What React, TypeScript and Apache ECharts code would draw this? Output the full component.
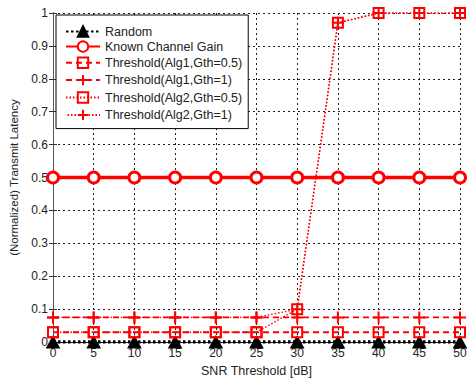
import React, { useEffect, useRef } from "react";
import * as echarts from "echarts";

const snr = [0, 5, 10, 15, 20, 25, 30, 35, 40, 45, 50];
const randomVals = [0, 0, 0, 0, 0, 0, 0, 0, 0, 0, 0];
const knownGain = [0.5, 0.5, 0.5, 0.5, 0.5, 0.5, 0.5, 0.5, 0.5, 0.5, 0.5];
const alg1Gth05 = [0.03, 0.03, 0.03, 0.03, 0.03, 0.03, 0.03, 0.03, 0.03, 0.03, 0.03];
const alg1Gth1 = [0.075, 0.075, 0.075, 0.075, 0.075, 0.075, 0.075, 0.075, 0.075, 0.075, 0.075];
const alg2Gth05 = [0.03, 0.03, 0.03, 0.03, 0.03, 0.03, 0.1, 0.97, 1, 1, 1];
const alg2Gth1 = [0.075, 0.075, 0.075, 0.075, 0.075, 0.075, 0.1, 0.97, 1, 1, 1];
const seriesNames = [
  "Random",
  "Known Channel Gain",
  "Threshold(Alg1,Gth=0.5)",
  "Threshold(Alg1,Gth=1)",
  "Threshold(Alg2,Gth=0.5)",
  "Threshold(Alg2,Gth=1)",
];
const xAxisName = "SNR Threshold [dB]";
const yAxisName = "(Normalized) Transmit Latency";

const FONT = "'Liberation Sans', Arial, Helvetica, sans-serif";
const RED = "#ff0000";
const PLUS = "path://M0,5L10,5M5,0L5,10";

const pairs = (vals: number[]) => snr.map((x, i) => [x, vals[i]]);

export default function App() {
  const ref = useRef<HTMLDivElement>(null);
  useEffect(() => {
    if (!ref.current) return;
    const chart = echarts.init(ref.current, undefined, { renderer: "svg" });
    const axisCommon = {
      axisLine: { show: true, lineStyle: { color: "#555", width: 1 } },
      axisTick: { show: true, inside: true, length: 4, lineStyle: { color: "#333" } },
    };
    chart.setOption({
      animation: false,
      backgroundColor: "#fff",
      textStyle: { fontFamily: FONT },
      grid: { left: 53, right: 12, top: 13, bottom: 37, show: false },
      legend: {
        orient: "vertical",
        left: 56,
        top: 15,
        backgroundColor: "#fff",
        borderColor: "#000",
        borderWidth: 1,
        borderRadius: 0,
        padding: [10, 6, 6, 9],
        itemGap: 2,
        itemWidth: 34,
        itemHeight: 13,
        textStyle: { fontSize: 12.5, color: "#222", fontFamily: FONT },
        data: seriesNames,
      },
      xAxis: [
        {
          type: "value",
          min: 0,
          max: 50,
          interval: 5,
          name: xAxisName,
          nameLocation: "middle",
          nameGap: 20,
          nameTextStyle: { fontSize: 12.5, color: "#222", fontFamily: FONT },
          axisLabel: { fontSize: 12, color: "#222", margin: 5, fontFamily: FONT },
          splitLine: { show: true, lineStyle: { color: "#222", type: [2, 3], width: 1 } },
          ...axisCommon,
        },
        {
          type: "value",
          position: "top",
          min: 0,
          max: 50,
          interval: 5,
          axisLabel: { show: false },
          splitLine: { show: false },
          axisLine: { show: true, lineStyle: { color: "#111", width: 1 } },
          axisTick: { show: true, inside: true, length: 4, lineStyle: { color: "#333" } },
        },
      ],
      yAxis: [
        {
          type: "value",
          min: 0,
          max: 1,
          interval: 0.1,
          name: yAxisName,
          nameLocation: "middle",
          nameGap: 27,
          nameTextStyle: { fontSize: 11.5, color: "#222", fontFamily: FONT },
          axisLabel: { fontSize: 12, color: "#222", margin: 5, fontFamily: FONT },
          splitLine: { show: true, lineStyle: { color: "#222", type: [2, 3], width: 1 } },
          ...axisCommon,
        },
        {
          type: "value",
          position: "right",
          min: 0,
          max: 1,
          interval: 0.1,
          axisLabel: { show: false },
          splitLine: { show: false },
          axisLine: { show: true, lineStyle: { color: "#555", width: 1 } },
          axisTick: { show: true, inside: true, length: 4, lineStyle: { color: "#333" } },
        },
      ],
      series: [
        {
          name: seriesNames[0],
          type: "line",
          data: pairs(randomVals),
          symbol: "triangle",
          symbolSize: [13, 12],
          lineStyle: { color: "#000", width: 3.5, type: [2.5, 2.5] },
          itemStyle: { color: "#000", borderColor: "#000", borderWidth: 1 },
          z: 3,
        },
        {
          name: seriesNames[1],
          type: "line",
          data: pairs(knownGain),
          symbol: "circle",
          symbolSize: 11,
          lineStyle: { color: RED, width: 3.5 },
          itemStyle: { color: "#fff", borderColor: RED, borderWidth: 3 },
          z: 4,
        },
        {
          name: seriesNames[2],
          type: "line",
          data: pairs(alg1Gth05),
          symbol: "rect",
          symbolSize: 10,
          lineStyle: { color: RED, width: 1.8, type: [6, 4] },
          itemStyle: { color: "none", borderColor: RED, borderWidth: 2 },
          z: 5,
        },
        {
          name: seriesNames[3],
          type: "line",
          data: pairs(alg1Gth1),
          symbol: PLUS,
          symbolSize: 12,
          lineStyle: { color: RED, width: 1.8, type: [6, 4] },
          itemStyle: { color: "none", borderColor: RED, borderWidth: 2 },
          z: 5,
        },
        {
          name: seriesNames[4],
          type: "line",
          data: pairs(alg2Gth05),
          symbol: "rect",
          symbolSize: 10,
          lineStyle: { color: RED, width: 1.4, type: [1.5, 2] },
          itemStyle: { color: "none", borderColor: RED, borderWidth: 2 },
          z: 6,
        },
        {
          name: seriesNames[5],
          type: "line",
          data: pairs(alg2Gth1),
          symbol: PLUS,
          symbolSize: 12,
          lineStyle: { color: RED, width: 1.4, type: [1.5, 2], dashOffset: 1.75 },
          itemStyle: { color: "none", borderColor: RED, borderWidth: 2 },
          z: 6,
        },
      ],
    });
    return () => chart.dispose();
  }, []);
  return (
    <div
      ref={ref}
      style={{ position: "fixed", left: 0, top: 0, width: 472, height: 382, background: "#fff" }}
    />
  );
}
